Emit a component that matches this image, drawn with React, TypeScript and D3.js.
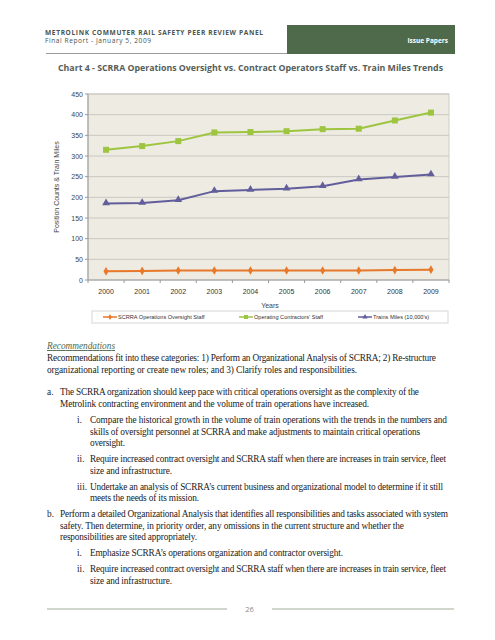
import React from "react";
import * as d3 from "d3";

const years = ["2000","2001","2002","2003","2004","2005","2006","2007","2008","2009"];
const oversightStaff = [21, 22, 23, 23, 23, 23, 23, 23, 24, 25];
const contractorStaff = [315, 324, 336, 357, 358, 360, 365, 366, 386, 405];
const trainMiles = [185, 186, 193, 215, 218, 221, 227, 243, 249, 255];
const yTicks = [0, 50, 100, 150, 200, 250, 300, 350, 400, 450];
const seriesNames = ["SCRRA Operations Oversight Staff", "Operating Contractors' Staff", "Trains Miles (10,000's)"];

const bodyLines: [number, string, number, boolean][] = [
  [47, "Recommendations fit into these categories: 1) Perform an Organizational Analysis of SCRRA; 2) Re-structure", 436, true],
  [47, "organizational reporting or create new roles; and 3) Clarify roles and responsibilities.", 357, false],
  [60, "The SCRRA organization should keep pace with critical operations oversight as the complexity of the", 419, true],
  [60, "Metrolink contracting environment and the volume of train operations have increased.", 369, false],
  [90, "Compare the historical growth in the volume of train operations with the trends in the numbers and", 447, true],
  [90, "skills of oversight personnel at SCRRA and make adjustments to maintain critical operations", 420, true],
  [90, "oversight.", 125, false],
  [90, "Require increased contract oversight and SCRRA staff when there are increases in train service, fleet", 446, true],
  [90, "size and infrastructure.", 172, false],
  [90, "Undertake an analysis of SCRRA\u2019s current business and organizational model to determine if it still", 443, true],
  [90, "meets the needs of its mission.", 199, false],
  [60, "Perform a detailed Organizational Analysis that identifies all responsibilities and tasks associated with system", 448, true],
  [60, "safety. Then determine, in priority order, any omissions in the current structure and whether the", 404, true],
  [60, "responsibilities are sited appropriately.", 197, false],
  [90, "Emphasize SCRRA\u2019s operations organization and contractor oversight.", 343, false],
  [90, "Require increased contract oversight and SCRRA staff when there are increases in train service, fleet", 446, true],
  [90, "size and infrastructure.", 172, false],
];
const bodyBaselines = [361, 373, 395, 406.5, 423, 434.5, 446, 462, 473.5, 489.5, 501, 517, 528.5, 540, 556, 572, 583.5];
const bullets: [number, string, number][] = [
  [47, "a.", 395], [77, "i.", 423], [77, "ii.", 462], [77, "iii.", 489.5],
  [47, "b.", 517], [77, "i.", 556], [77, "ii.", 572],
];

export default function App() {
  const left = 88, right = 449, top = 94, bottom = 280;
  const x = d3.scaleBand<string>().domain(years).range([left, right]);
  const y = d3.scaleLinear().domain([0, 450]).range([bottom, top]);
  const cx = (yr: string) => (x(yr) as number) + x.bandwidth() / 2;
  const line = d3.line<number>().x((_, i) => cx(years[i])).y((d) => y(d));

  const orange = "#E8782A", green = "#9DC53F", purple = "#625E9C";
  const sans = "'Liberation Sans', Arial, sans-serif";
  const headFont = "'Open Sans', 'DejaVu Sans', sans-serif";
  const serif = "'Liberation Serif', 'Times New Roman', serif";

  const tri = d3.symbol().type(d3.symbolTriangle).size(26)() as string;
  const dia = d3.symbol().type(d3.symbolDiamond).size(22)() as string;

  return (
    <svg width={495} height={640} style={{ position: "absolute", left: 0, top: 0, background: "#fff" }}>
      {/* header */}
      <rect x={287} y={25} width={168} height={29} fill="#4E6A4B" />
      <line x1={46} x2={287} y1={53.5} y2={53.5} stroke="#9a9a9a" strokeWidth={1} />
      <text x={45} y={34.5} fontFamily={headFont} fontWeight={700} fontSize={6.6} fill="#4a5550" textLength={218}>METROLINK COMMUTER RAIL SAFETY PEER REVIEW PANEL</text>
      <text x={45} y={42.5} fontFamily={headFont} fontSize={6.6} fill="#4a5550" textLength={106}>Final Report - January 5, 2009</text>
      <text x={448} y={42.5} fontFamily={headFont} fontWeight={700} fontSize={6.5} fill="#fff" textAnchor="end">Issue Papers</text>
      <text x={58} y={70.5} fontFamily={headFont} fontWeight={700} fontSize={8.8} fill="#555e59" textLength={385}>Chart 4 - SCRRA Operations Oversight vs. Contract Operators Staff vs. Train Miles Trends</text>

      {/* plot area */}
      <rect x={left} y={top} width={right - left} height={bottom - top} fill="#EDEBE2" stroke="#CFCDC6" />
      {yTicks.filter((t) => t > 0).map((t) => (
        <line key={t} x1={left} x2={right} y1={y(t)} y2={y(t)} stroke="#CAC8C0" strokeWidth={1} />
      ))}
      <line x1={left} x2={left} y1={top} y2={bottom} stroke="#9a9a9a" />
      <line x1={left} x2={right} y1={bottom} y2={bottom} stroke="#9a9a9a" />
      {yTicks.map((t) => (
        <g key={t}>
          <line x1={left - 3} x2={left} y1={y(t)} y2={y(t)} stroke="#9a9a9a" />
          <text x={83} y={y(t) + 2.5} textAnchor="end" fontFamily={sans} fontSize={7} fill="#444">{t}</text>
        </g>
      ))}
      {years.map((yr, i) => (
        <g key={yr}>
          <line x1={x(yr) as number} x2={x(yr) as number} y1={bottom} y2={bottom + 3} stroke="#9a9a9a" />
          <text x={cx(yr)} y={294} textAnchor="middle" fontFamily={sans} fontSize={7} fill="#333">{yr}</text>
          {i === years.length - 1 && <line x1={right} x2={right} y1={bottom} y2={bottom + 3} stroke="#9a9a9a" />}
        </g>
      ))}
      <text transform={`translate(59,187) rotate(-90)`} textAnchor="middle" fontFamily={sans} fontSize={7} fill="#444">Position Counts &amp; Train Miles</text>
      <text x={270} y={307.5} textAnchor="middle" fontFamily={sans} fontSize={7} fill="#444">Years</text>

      {/* series */}
      <path d={line(contractorStaff) as string} fill="none" stroke={green} strokeWidth={2} />
      {contractorStaff.map((v, i) => (
        <rect key={i} x={cx(years[i]) - 3} y={y(v) - 3} width={6} height={6} fill={green} />
      ))}
      <path d={line(trainMiles) as string} fill="none" stroke={purple} strokeWidth={2} />
      {trainMiles.map((v, i) => (
        <path key={i} d={tri} transform={`translate(${cx(years[i])},${y(v) - 0.5})`} fill={purple} />
      ))}
      <path d={line(oversightStaff) as string} fill="none" stroke={orange} strokeWidth={2} />
      {oversightStaff.map((v, i) => (
        <path key={i} d={dia} transform={`translate(${cx(years[i])},${y(v)})`} fill={orange} />
      ))}

      {/* legend */}
      <rect x={92} y={311} width={356} height={12} fill="#fff" stroke="#d6d6d6" />
      {[
        [103, orange, "d"],
        [239, green, "s"],
        [358, purple, "t"],
      ].map(([lx, c, m], i) => (
        <g key={i}>
          <line x1={lx as number} x2={(lx as number) + 14} y1={317} y2={317} stroke={c as string} strokeWidth={1.5} />
          {m === "d" && <path d={d3.symbol().type(d3.symbolDiamond).size(10)() as string} transform={`translate(${(lx as number) + 7},317)`} fill={c as string} />}
          {m === "s" && <rect x={(lx as number) + 5} y={315} width={4} height={4} fill={c as string} />}
          {m === "t" && <path d={d3.symbol().type(d3.symbolTriangle).size(12)() as string} transform={`translate(${(lx as number) + 7},317)`} fill={c as string} />}
          <text x={(lx as number) + 15} y={319.3} fontFamily={sans} fontSize={5.6} fill="#333">{seriesNames[i]}</text>
        </g>
      ))}

      {/* body text */}
      <text x={47} y={349} fontFamily={serif} fontStyle="italic" fontSize={9.3} fill="#4E6A4B" textDecoration="underline" textLength={68}>Recommendations</text>
      {bodyLines.map(([lx, s, end], i) => (
        <text key={i} x={lx} y={bodyBaselines[i]} fontFamily={serif} fontSize={9.3} fill="#222" textLength={end - lx}>{s}</text>
      ))}
      {bullets.map(([bx, s, by], i) => (
        <text key={i} x={bx} y={by} fontFamily={serif} fontSize={9.3} fill="#222">{s}</text>
      ))}

      {/* footer */}
      <line x1={47} x2={227} y1={609} y2={609} stroke="#9FAF9C" strokeWidth={1.2} />
      <line x1={272} x2={454} y1={609} y2={609} stroke="#9FAF9C" strokeWidth={1.2} />
      <text x={249.5} y={611.5} textAnchor="middle" fontFamily={headFont} fontSize={7.5} fill="#888">26</text>
    </svg>
  );
}
